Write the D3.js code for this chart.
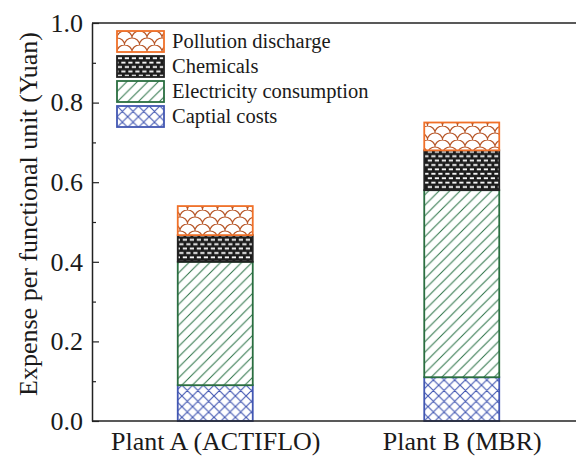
<!DOCTYPE html>
<html>
<head>
<meta charset="utf-8">
<script src="https://cdn.jsdelivr.net/npm/d3@7"></script>
<style>
  body { margin: 0; background: #fff; }
  svg { display: block; font-family: 'Liberation Serif', 'DejaVu Serif', serif; }
</style>
</head>
<body>
<div id="chart"></div>
<script>
// data
var plants = ['Plant A (ACTIFLO)', 'Plant B (MBR)'];
var capital = [0.09, 0.11];
var electricity = [0.31, 0.47];
var chemicals = [0.067, 0.10];
var pollution = [0.073, 0.07];
var yTicks = [0.0, 0.2, 0.4, 0.6, 0.8, 1.0];
var yMinor = [0.1, 0.3, 0.5, 0.7, 0.9];
var seriesNames = ['Captial costs', 'Electricity consumption', 'Chemicals', 'Pollution discharge'];

var W = 576, H = 458,
    plotLeft = 92, plotTop = 23, plotBottom = 421, plotRight = 585;

var rows = plants.map(function(p, i) {
    return { plant: p, cap: capital[i], ele: electricity[i], che: chemicals[i], pol: pollution[i] };
});
var keys = ['cap', 'ele', 'che', 'pol'];
var stack = d3.stack().keys(keys)(rows);

var x = d3.scalePoint().domain(plants).range([plotLeft, plotRight]).padding(0.5),
    y = d3.scaleLinear().domain([0, 1]).range([plotBottom, plotTop]),
    barW = 75;

var svg = d3.select('#chart').append('svg')
    .attr('width', W).attr('height', H);

// hatch patterns
var defs = svg.append('defs');

var pCap = defs.append('pattern').attr('id', 'p-cap')
    .attr('patternUnits', 'userSpaceOnUse').attr('width', 10.7).attr('height', 10.7);
pCap.append('rect').attr('width', 10.7).attr('height', 10.7).attr('fill', '#fff');
pCap.append('path')
    .attr('d', 'M-2,2 L2,-2 M0,10.7 L10.7,0 M8.7,12.7 L12.7,8.7 M-2,8.7 L2,12.7 M0,0 L10.7,10.7 M8.7,-2 L12.7,2')
    .attr('stroke', '#4257b2').attr('stroke-width', 1.1);

var pEle = defs.append('pattern').attr('id', 'p-ele')
    .attr('patternUnits', 'userSpaceOnUse').attr('width', 10.5).attr('height', 10.5);
pEle.append('rect').attr('width', 10.5).attr('height', 10.5).attr('fill', '#fff');
pEle.append('path')
    .attr('d', 'M-2,2 L2,-2 M0,10.5 L10.5,0 M8.5,12.5 L12.5,8.5')
    .attr('stroke', '#2a7246').attr('stroke-width', 1);

// black with white bricks
var pChe = defs.append('pattern').attr('id', 'p-che')
    .attr('patternUnits', 'userSpaceOnUse').attr('width', 7).attr('height', 8.8);
pChe.append('rect').attr('width', 7).attr('height', 8.8).attr('fill', '#1c1c1c');
pChe.append('rect').attr('x', 0.8).attr('y', 1.3).attr('width', 4.2).attr('height', 1.8).attr('fill', '#fff');
pChe.append('rect').attr('x', 4.3).attr('y', 5.7).attr('width', 4.2).attr('height', 1.8).attr('fill', '#fff');
pChe.append('rect').attr('x', -2.7).attr('y', 5.7).attr('width', 4.2).attr('height', 1.8).attr('fill', '#fff');

var pPol = defs.append('pattern').attr('id', 'p-pol')
    .attr('patternUnits', 'userSpaceOnUse').attr('width', 15).attr('height', 14);
pPol.append('rect').attr('width', 15).attr('height', 14).attr('fill', '#fff');
pPol.append('path')
    .attr('d', 'M0,7 A7.5,7 0 0 1 15,7 M-7.5,14 A7.5,7 0 0 1 7.5,14 M7.5,14 A7.5,7 0 0 1 22.5,14 M-7.5,0 A7.5,7 0 0 1 7.5,0 M7.5,0 A7.5,7 0 0 1 22.5,0')
    .attr('fill', 'none').attr('stroke', '#b8582a').attr('stroke-width', 1.2);

var fills = { cap: 'url(#p-cap)', ele: 'url(#p-ele)', che: 'url(#p-che)', pol: 'url(#p-pol)' };
var edges = { cap: '#4257b2', ele: '#2a6e40', che: '#222', pol: '#f07028' };

// bars
var layer = svg.selectAll('.layer')
    .data(stack)
    .enter().append('g')
    .attr('class', 'layer');

layer.selectAll('rect')
    .data(function(s) { return s.map(function(d) { d.key = s.key; return d; }); })
    .enter().append('rect')
    .attr('x', function(d) { return x(d.data.plant) - barW / 2; })
    .attr('y', function(d) { return y(d[1]); })
    .attr('width', barW)
    .attr('height', function(d) { return y(d[0]) - y(d[1]); })
    .attr('fill', function(d) { return fills[d.key]; })
    .attr('stroke', function(d) { return edges[d.key]; })
    .attr('stroke-width', 1.8);

// axes frame: top and bottom lines
svg.append('line').attr('x1', plotLeft).attr('x2', W).attr('y1', plotTop).attr('y2', plotTop)
    .attr('stroke', '#222').attr('stroke-width', 1.5);
svg.append('line').attr('x1', plotLeft).attr('x2', W).attr('y1', plotBottom).attr('y2', plotBottom)
    .attr('stroke', '#222').attr('stroke-width', 1.5);

var yAxis = svg.append('g')
    .attr('transform', 'translate(' + plotLeft + ',0)')
    .call(d3.axisLeft(y).tickValues(yTicks).tickSizeInner(-7).tickSizeOuter(0)
        .tickPadding(9).tickFormat(d3.format('.1f')));
yAxis.select('.domain').attr('stroke', '#222').attr('stroke-width', 1.5);
yAxis.selectAll('.tick line').attr('stroke', '#222').attr('stroke-width', 1.2);
yAxis.selectAll('text')
    .attr('font-family', "'Liberation Serif', serif")
    .attr('font-size', 26).attr('fill', '#1a1a1a');

var yMinorAxis = svg.append('g')
    .attr('transform', 'translate(' + plotLeft + ',0)')
    .call(d3.axisLeft(y).tickValues(yMinor).tickSizeInner(-4).tickSizeOuter(0).tickFormat(''));
yMinorAxis.select('.domain').remove();
yMinorAxis.selectAll('.tick line').attr('stroke', '#222').attr('stroke-width', 1.2);

// x labels
var xAxis = svg.append('g')
    .attr('transform', 'translate(0,' + plotBottom + ')')
    .call(d3.axisBottom(x).tickSize(0).tickPadding(11));
xAxis.select('.domain').remove();
xAxis.selectAll('text')
    .attr('font-family', "'Liberation Serif', serif")
    .attr('font-size', 26).attr('fill', '#1a1a1a')
    .attr('dy', '0.71em');

// y title
svg.append('text')
    .attr('transform', 'translate(37,214) rotate(-90)')
    .attr('text-anchor', 'middle')
    .attr('font-size', 26).attr('fill', '#1a1a1a')
    .text('Expense per functional unit (Yuan)');

// legend, top entry first
var legendKeys = keys.slice().reverse();
var leg = svg.selectAll('.leg')
    .data(legendKeys)
    .enter().append('g')
    .attr('class', 'leg')
    .attr('transform', function(d, i) { return 'translate(117,' + (31 + i * 25) + ')'; });

leg.append('rect')
    .attr('width', 47).attr('height', 21)
    .attr('fill', function(d) { return fills[d]; })
    .attr('stroke', function(d) { return edges[d]; })
    .attr('stroke-width', 1.8);

leg.append('text')
    .attr('x', 55).attr('y', 17)
    .attr('font-size', 20.5).attr('fill', '#1a1a1a')
    .text(function(d) { return seriesNames[keys.indexOf(d)]; });
</script>
</body>
</html>
